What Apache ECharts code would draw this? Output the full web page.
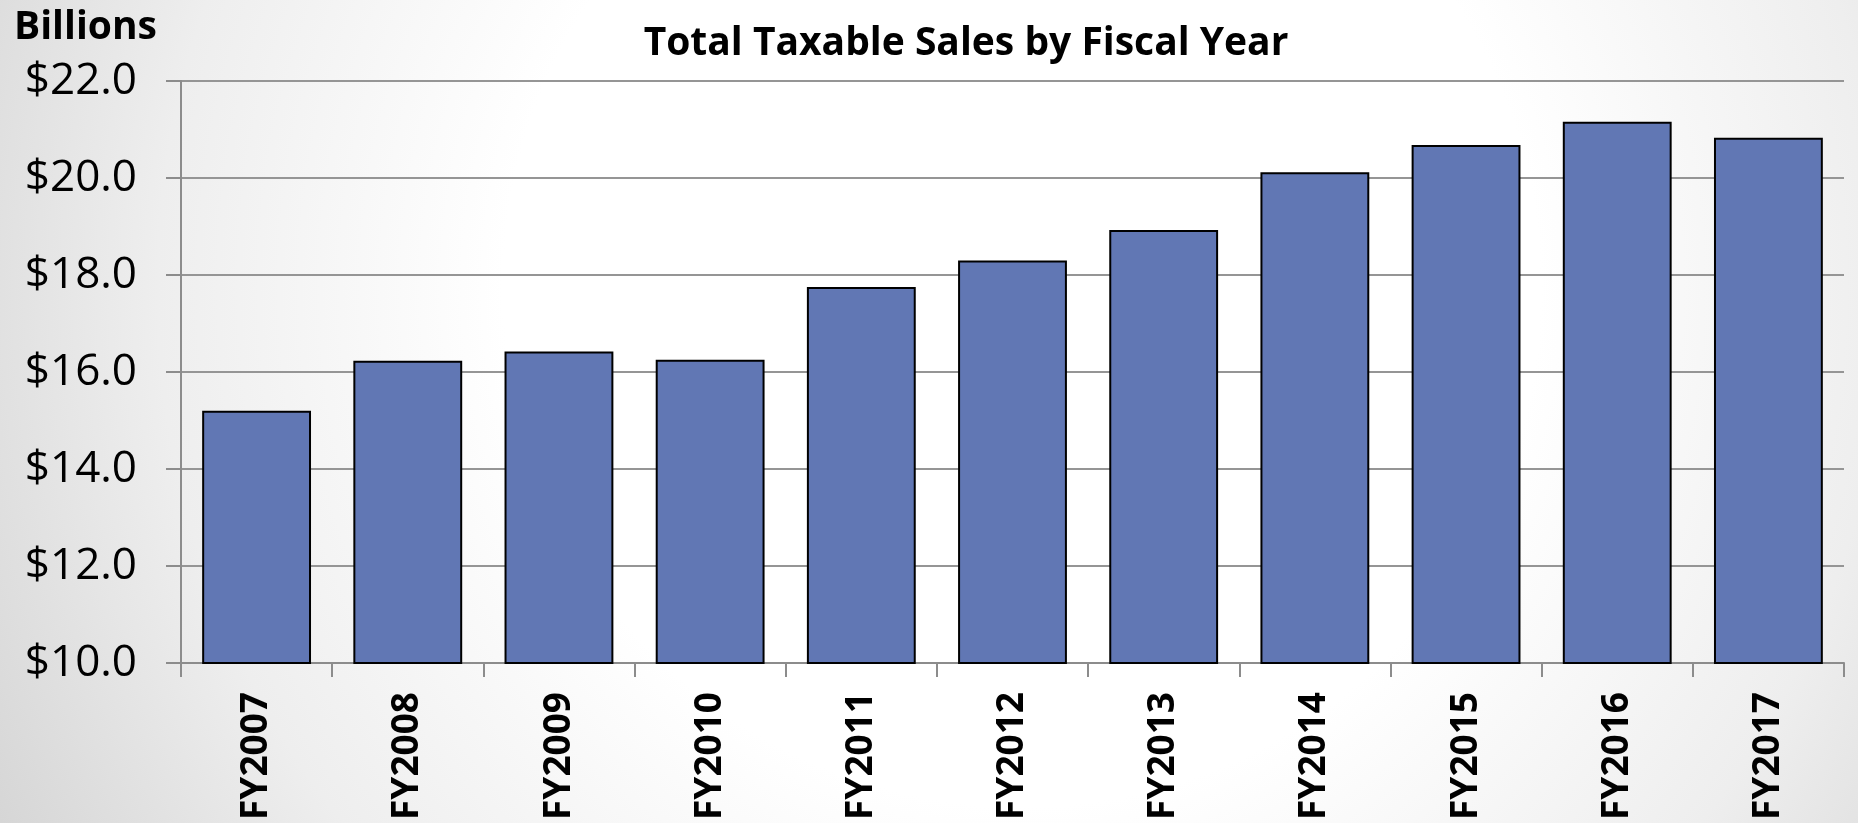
<!DOCTYPE html>
<html lang="en">
<head>
    <meta charset="UTF-8">
    <title>Total Taxable Sales by Fiscal Year</title>
    <script src="https://cdn.jsdelivr.net/npm/echarts@6/dist/echarts.min.js"></script>
    <style>
        html, body { margin: 0; padding: 0; }
        #main { width: 1858px; height: 823px; }
    </style>
</head>
<body>
<div id="main"></div>
<script>
// fiscal years and total taxable sales (billions of dollars)
var years = ['FY2007', 'FY2008', 'FY2009', 'FY2010', 'FY2011', 'FY2012',
             'FY2013', 'FY2014', 'FY2015', 'FY2016', 'FY2017'];
var sales = [15.20, 16.23, 16.42, 16.25, 17.75, 18.30, 18.93, 20.12, 20.68, 21.16, 20.83];

var font = '"Open Sans", "Noto Sans", sans-serif';

var myChart = echarts.init(document.getElementById('main'));

myChart.setOption({
    // soft slide-style background: white centre fading to light grey edges
    backgroundColor: new echarts.graphic.RadialGradient(0.55, 0.35, 1.4, [
        { offset: 0, color: '#ffffff' },
        { offset: 0.45, color: '#ffffff' },
        { offset: 0.75, color: '#eeeeee' },
        { offset: 1, color: '#d6d6d6' }
    ]),
    title: [{
        text: 'Total Taxable Sales by Fiscal Year',
        left: 961,
        top: 19,
        textAlign: 'center',
        textStyle: { fontFamily: font, fontWeight: 'bold', fontSize: 39, color: '#000' }
    }, {
        text: 'Billions',
        left: 9,
        top: 3,
        textStyle: { fontFamily: font, fontWeight: 'bold', fontSize: 39, color: '#000' }
    }],
    grid: { left: 181, right: 14, top: 81, bottom: 158 },
    xAxis: {
        type: 'category',
        data: years,
        axisLine: { lineStyle: { color: '#8c8c8c', width: 2 } },
        axisTick: { show: true, length: 14, lineStyle: { color: '#8c8c8c', width: 2 } },
        axisLabel: {
            rotate: 90,
            margin: 29,
            interval: 0,
            fontFamily: font,
            fontWeight: 'bold',
            fontSize: 37,
            color: '#000'
        }
    },
    yAxis: {
        type: 'value',
        min: 10,
        max: 22,
        interval: 2,
        axisLine: { show: true, lineStyle: { color: '#8c8c8c', width: 2 } },
        axisTick: { show: true, length: 15, lineStyle: { color: '#8c8c8c', width: 2 } },
        splitLine: { lineStyle: { color: '#959595', width: 2 } },
        axisLabel: {
            margin: 44,
            fontFamily: font,
            fontSize: 44,
            color: '#000',
            formatter: function (v) { return '$' + v.toFixed(1); }
        }
    },
    series: [{
        type: 'bar',
        data: sales,
        barCategoryGap: '28%',
        itemStyle: { color: '#6177b4', borderColor: '#000', borderWidth: 2 }
    }]
});
</script>
</body>
</html>
